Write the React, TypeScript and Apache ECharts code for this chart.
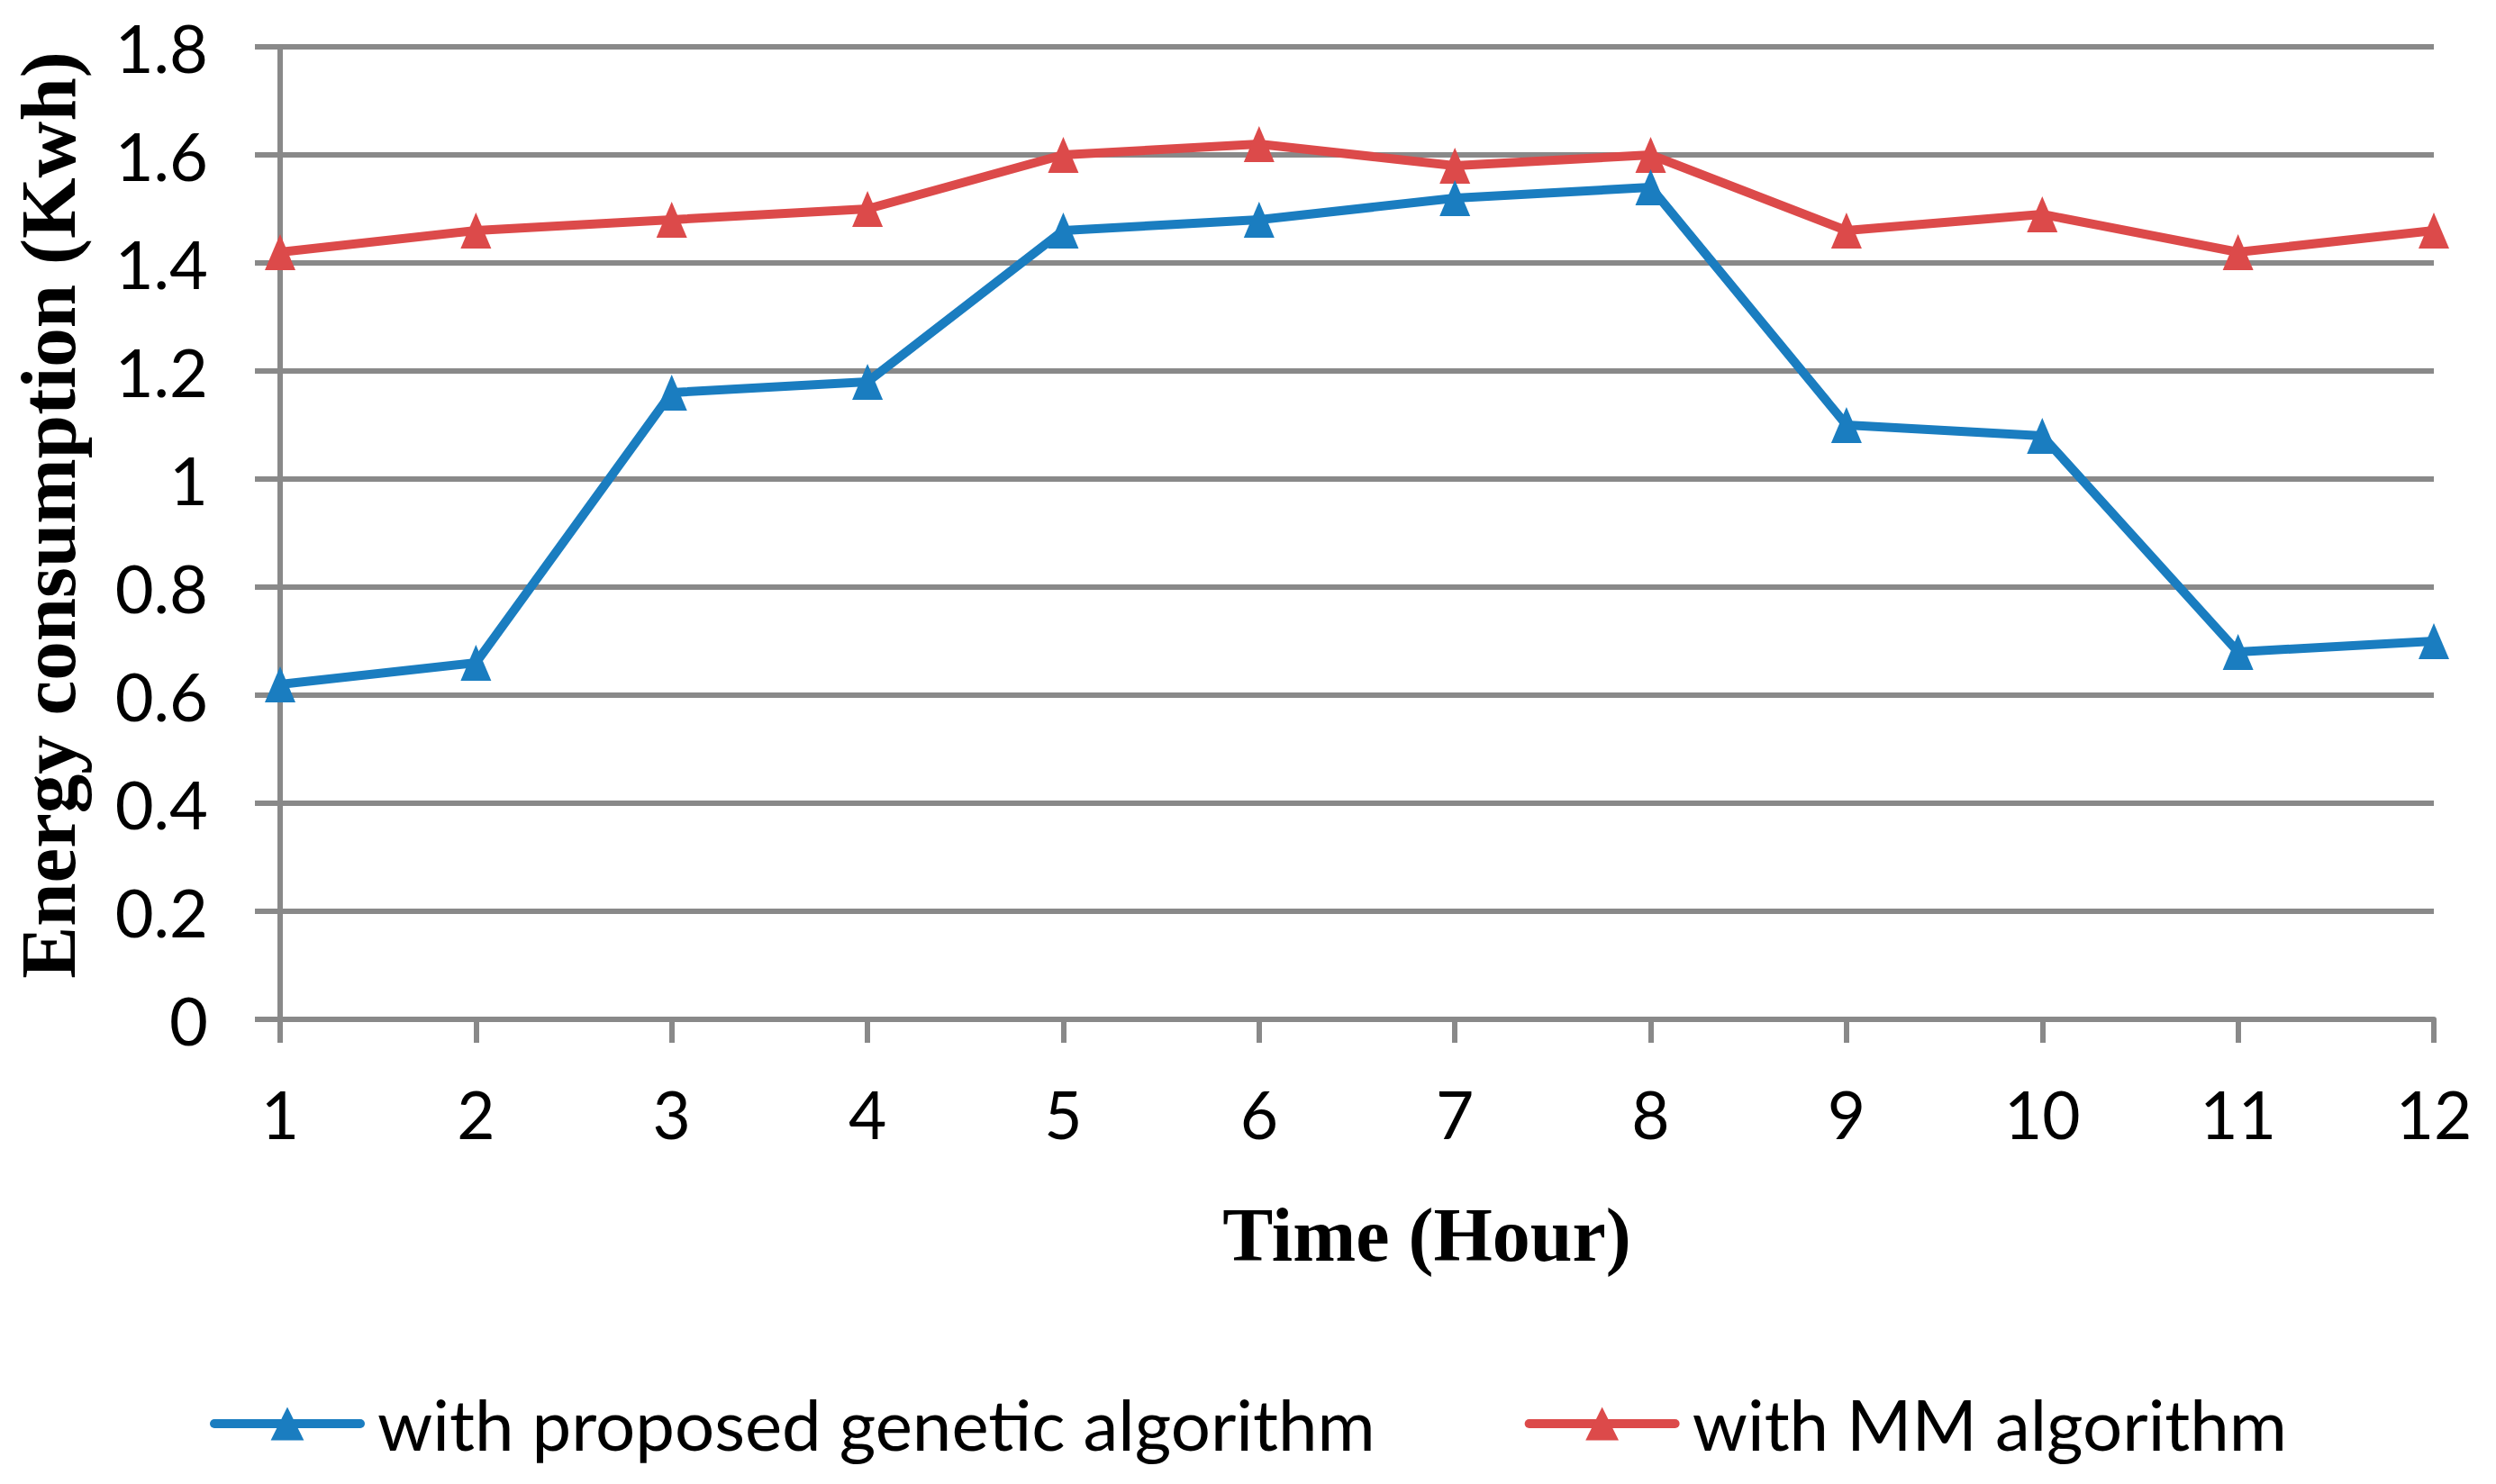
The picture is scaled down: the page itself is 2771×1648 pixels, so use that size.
import React, { useEffect, useRef } from "react";
import * as echarts from "echarts";

const hours = ["1", "2", "3", "4", "5", "6", "7", "8", "9", "10", "11", "12"];
const geneticValues = [0.62, 0.66, 1.16, 1.18, 1.46, 1.48, 1.52, 1.54, 1.1, 1.08, 0.68, 0.7];
const mmValues = [1.42, 1.46, 1.48, 1.5, 1.6, 1.62, 1.58, 1.6, 1.46, 1.49, 1.42, 1.46];
const seriesNames = ["with proposed genetic algorithm", "with MM algorithm"];
const yAxisTitle = "Energy consumption (Kwh)";
const xAxisTitle = "Time (Hour)";

const W = 2771;
const H = 1648;
const GRAY = "#898989";
const BLUE = "#1a7dc0";
const RED = "#dc4a4a";
const SANS = "Lato, 'Noto Sans', sans-serif";
const SERIF = "'Liberation Serif', 'DejaVu Serif', serif";

export default function App() {
  const ref = useRef<HTMLDivElement>(null);
  useEffect(() => {
    document.body.style.margin = "0";
    const chart = echarts.init(ref.current!, null, { renderer: "svg" });
    chart.setOption({
      animation: false,
      backgroundColor: "#ffffff",
      grid: { left: 311, right: 69, top: 52, bottom: 516, containLabel: false },
      legend: {
        left: 228,
        top: 1537,
        itemWidth: 162,
        itemHeight: 46,
        itemGap: 166,
        lineStyle: { width: 10, cap: "round" },
        textStyle: { fontFamily: SANS, fontSize: 78, color: "#000", padding: [0, 0, 0, 14] },
        data: seriesNames,
      },
      xAxis: {
        type: "category",
        data: hours,
        boundaryGap: false,
        axisLine: { lineStyle: { color: GRAY, width: 6 } },
        axisTick: { show: true, alignWithLabel: true, length: 26, lineStyle: { color: GRAY, width: 6 } },
        axisLabel: { color: "#000", fontFamily: SANS, fontSize: 73, margin: 68 },
        splitLine: { show: false },
      },
      yAxis: {
        type: "value",
        min: 0,
        max: 1.8,
        interval: 0.2,
        axisLine: { show: true, lineStyle: { color: GRAY, width: 6 } },
        axisTick: { show: true, length: 28, lineStyle: { color: GRAY, width: 6 } },
        axisLabel: {
          color: "#000",
          fontFamily: SANS,
          fontSize: 74,
          margin: 80,
          formatter: (v: number) => String(Math.round(v * 10) / 10),
        },
        splitLine: { show: true, lineStyle: { color: GRAY, width: 6 } },
      },
      series: [
        {
          name: seriesNames[0],
          type: "line",
          data: geneticValues,
          symbol: "triangle",
          symbolSize: [34, 40],
          lineStyle: { color: BLUE, width: 10 },
          itemStyle: { color: BLUE },
          z: 3,
        },
        {
          name: seriesNames[1],
          type: "line",
          data: mmValues,
          symbol: "triangle",
          symbolSize: [34, 40],
          lineStyle: { color: RED, width: 10 },
          itemStyle: { color: RED },
          z: 2,
        },
      ],
      graphic: [
        {
          type: "text",
          x: 53,
          y: 572,
          rotation: Math.PI / 2,
          style: {
            text: yAxisTitle,
            font: `bold 87px ${SERIF}`,
            fill: "#000",
            textAlign: "center",
            textVerticalAlign: "middle",
          },
        },
        {
          type: "text",
          x: 1584,
          y: 1371,
          style: {
            text: xAxisTitle,
            font: `bold 84px ${SERIF}`,
            fill: "#000",
            textAlign: "center",
            textVerticalAlign: "middle",
          },
        },
      ],
    });
    return () => chart.dispose();
  }, []);
  return <div ref={ref} style={{ width: W, height: H }} />;
}
